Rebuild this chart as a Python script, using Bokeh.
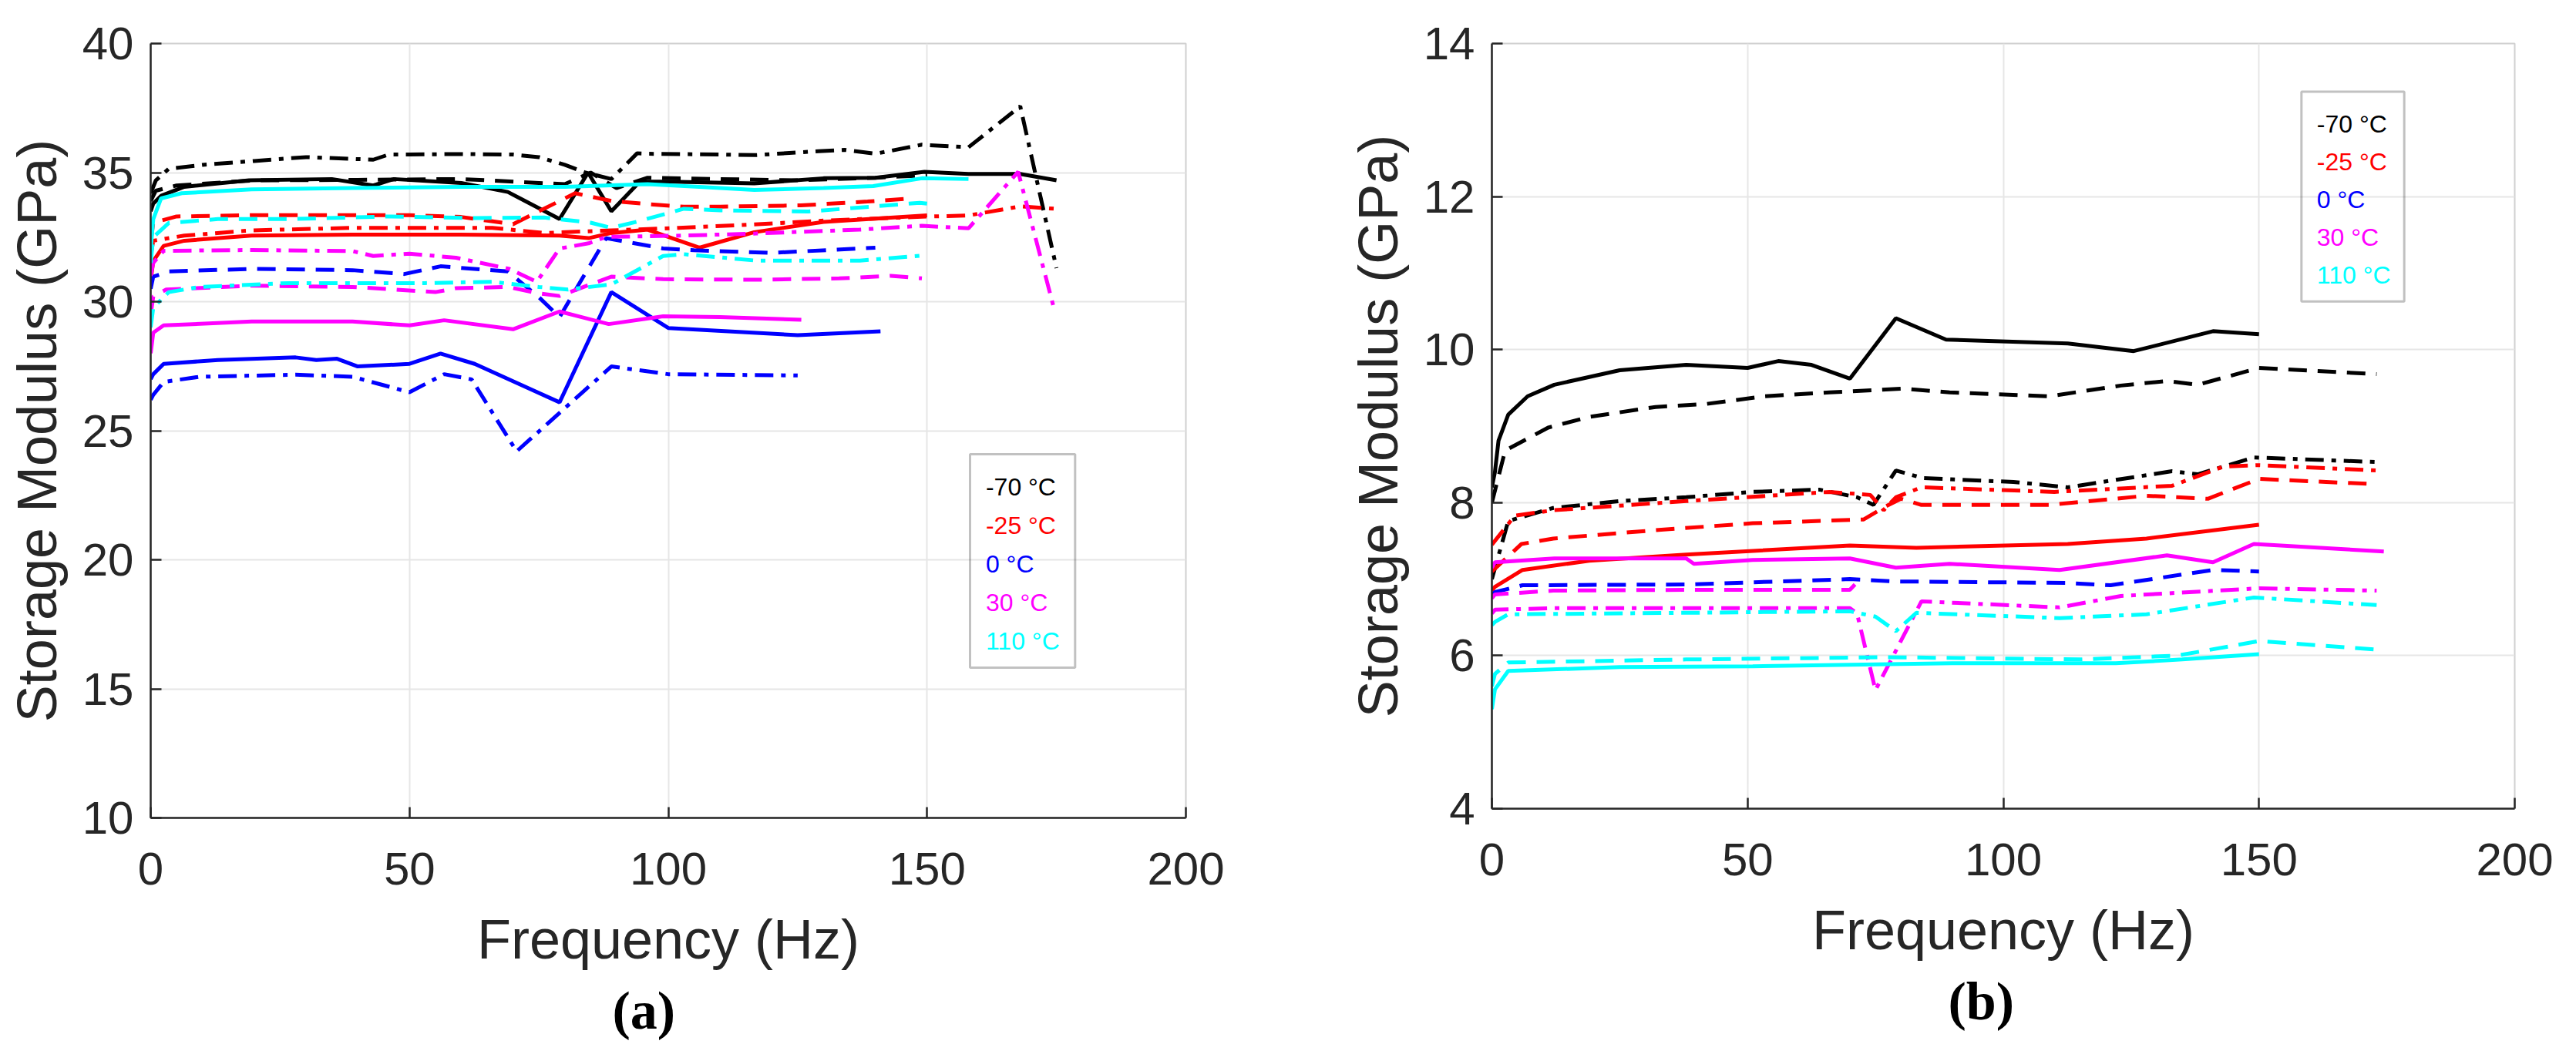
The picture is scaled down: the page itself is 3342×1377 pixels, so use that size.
from bokeh.plotting import figure
from bokeh.layouts import row
from bokeh.models import Range1d, FixedTicker, BoxAnnotation, Title
from bokeh.core.properties import value
from bokeh.embed import file_html
from bokeh.resources import INLINE

# ---------------- data: panel (a) ----------------
A_K_DASHDOT_X = [0, 1, 3.5, 10, 20, 30, 43, 46, 50, 60, 70, 75, 80, 84, 89, 94, 96, 110, 117, 129, 134, 140, 149, 158, 168, 175]
A_K_DASHDOT_Y = [34.2, 34.7, 35.15, 35.3, 35.45, 35.6, 35.5, 35.7, 35.7, 35.72, 35.7, 35.6, 35.3, 35.0, 34.75, 35.75, 35.73, 35.7, 35.68, 35.83, 35.88, 35.73, 36.08, 35.98, 37.57, 31.3]
A_K_SOLID_X = [0, 0.5, 2, 6.5, 19, 35, 43, 47, 60, 69, 79, 84.5, 89, 94.5, 100, 116.6, 130, 140, 149.5, 158, 168, 175]
A_K_SOLID_Y = [33.5, 33.8, 34.1, 34.45, 34.7, 34.75, 34.5, 34.75, 34.6, 34.25, 33.2, 35.0, 33.5, 34.65, 34.65, 34.58, 34.78, 34.8, 35.03, 34.95, 34.95, 34.7]
A_K_DASHED_X = [0, 1, 5, 20, 40, 60, 75, 80, 85, 90, 96, 110, 125, 140, 150]
A_K_DASHED_Y = [33.9, 34.3, 34.5, 34.7, 34.72, 34.75, 34.6, 34.55, 35.0, 34.4, 34.8, 34.75, 34.7, 34.8, 34.9]
A_C_SOLID_X = [0, 0.5, 2, 6, 19.5, 39, 60, 80, 96, 106, 116.6, 130, 139.6, 149, 158]
A_C_SOLID_Y = [32.0, 33.2, 34.0, 34.2, 34.35, 34.4, 34.45, 34.45, 34.55, 34.45, 34.33, 34.4, 34.48, 34.78, 34.75]
A_R_DASHED_X = [0, 0.5, 5, 20, 40, 50, 60, 65, 70, 82, 89, 96, 103, 110, 125.6, 138.5, 147.3]
A_R_DASHED_Y = [32.3, 33.06, 33.3, 33.35, 33.35, 33.35, 33.28, 33.14, 33.0, 34.2, 33.9, 33.78, 33.68, 33.68, 33.73, 33.88, 34.0]
A_C_DASHED_X = [0, 0.5, 3.5, 13, 26.6, 46, 63, 76, 85, 89, 94, 103, 110, 127, 148.6, 150]
A_C_DASHED_Y = [31.5, 32.5, 33.05, 33.2, 33.2, 33.3, 33.24, 33.26, 33.06, 32.86, 33.1, 33.6, 33.54, 33.49, 33.83, 33.8]
A_R_DASHDOT_X = [0, 0.5, 6.5, 19.5, 39, 66, 76, 89, 102, 116.6, 130, 149, 158, 168, 174.7]
A_R_DASHDOT_Y = [31.8, 32.36, 32.56, 32.76, 32.86, 32.86, 32.66, 32.76, 32.86, 32.99, 33.14, 33.29, 33.34, 33.69, 33.6]
A_R_SOLID_X = [0, 0.5, 2.5, 6.5, 19.5, 39, 60, 79, 84.6, 89, 96, 106, 116.6, 130, 150]
A_R_SOLID_Y = [30.8, 31.57, 32.16, 32.36, 32.56, 32.6, 32.6, 32.56, 32.46, 32.66, 32.79, 32.09, 32.69, 33.09, 33.34]
A_M_DASHDOT_X = [0, 0.5, 2.5, 19.5, 39, 43, 50, 59, 69.3, 74.6, 79, 84.6, 88, 103, 117, 137, 149, 158, 167.6, 174.7]
A_M_DASHDOT_Y = [31.0, 31.5, 31.97, 32.0, 31.96, 31.77, 31.86, 31.7, 31.27, 30.77, 32.06, 32.26, 32.51, 32.56, 32.64, 32.79, 32.94, 32.84, 35.03, 29.6]
A_M_DASHED_X = [0, 0.5, 3, 19.5, 39, 55, 59, 69, 75, 79, 89, 99, 117, 133, 143, 149]
A_M_DASHED_Y = [29.5, 30.2, 30.47, 30.62, 30.57, 30.37, 30.52, 30.57, 30.32, 30.22, 30.97, 30.87, 30.85, 30.9, 31.0, 30.9]
A_B_DASHED_X = [0, 0.5, 3.5, 19.5, 39, 49, 56, 69, 75, 79, 83, 88, 99, 105, 120, 140]
A_B_DASHED_Y = [30.5, 30.97, 31.17, 31.27, 31.22, 31.07, 31.37, 31.17, 30.17, 29.4, 30.77, 32.46, 32.06, 31.99, 31.89, 32.09]
A_C_DASHDOT_X = [0, 0.5, 3.5, 9.4, 26.6, 53, 66, 75, 80.6, 89, 99, 103, 117, 137, 149.5]
A_C_DASHDOT_Y = [29.0, 29.77, 30.37, 30.57, 30.72, 30.72, 30.77, 30.57, 30.47, 30.67, 31.77, 31.84, 31.59, 31.59, 31.79]
A_M_SOLID_X = [0, 0.5, 2.5, 19.5, 39, 50, 56.7, 70, 79, 88.5, 99, 110, 125.7]
A_M_SOLID_Y = [28.0, 28.8, 29.08, 29.23, 29.23, 29.08, 29.28, 28.93, 29.62, 29.13, 29.43, 29.4, 29.3]
A_B_SOLID_X = [0, 0.5, 2.5, 13, 28, 32, 36, 40, 50, 56, 62.6, 79, 89, 100, 125, 141]
A_B_SOLID_Y = [27.0, 27.19, 27.59, 27.74, 27.84, 27.74, 27.79, 27.49, 27.59, 27.99, 27.59, 26.1, 30.37, 28.98, 28.7, 28.85]
A_B_DASHDOT_X = [0, 0.5, 2.5, 9.4, 28, 39, 50, 56.7, 62, 70.7, 89, 100, 125]
A_B_DASHDOT_Y = [26.2, 26.39, 26.89, 27.09, 27.17, 27.09, 26.49, 27.19, 26.99, 24.2, 27.49, 27.19, 27.14]

# ---------------- data: panel (b) ----------------
B_K_SOLID_X = [0, 0.6, 1.3, 3.2, 7, 12.2, 25, 38, 50, 56, 62.5, 70, 79, 88.8, 112.6, 125.5, 141, 150]
B_K_SOLID_Y = [8.2, 8.4, 8.81, 9.15, 9.39, 9.54, 9.73, 9.8, 9.76, 9.85, 9.8, 9.62, 10.41, 10.13, 10.08, 9.98, 10.24, 10.2]
B_K_DASHED_X = [0, 2.6, 11, 19, 32, 42, 53.4, 66, 80.4, 89.5, 109, 123, 132, 138, 150, 173]
B_K_DASHED_Y = [8.0, 8.68, 8.98, 9.12, 9.25, 9.29, 9.39, 9.44, 9.49, 9.44, 9.39, 9.53, 9.59, 9.54, 9.76, 9.68]
B_K_DASHDOT_X = [0, 3.2, 12, 25, 38, 51, 64, 71.4, 74.6, 79, 84.3, 102, 112.6, 133, 138, 149, 173]
B_K_DASHDOT_Y = [7.0, 7.76, 7.93, 8.02, 8.07, 8.14, 8.17, 8.07, 7.97, 8.42, 8.32, 8.27, 8.2, 8.41, 8.37, 8.59, 8.53]
B_R_DASHDOT_X = [0, 4.5, 12, 38, 66, 74, 76.6, 79, 84, 110, 133, 143, 150, 173]
B_R_DASHDOT_Y = [7.45, 7.83, 7.9, 8.02, 8.14, 8.1, 7.9, 8.07, 8.2, 8.14, 8.22, 8.47, 8.49, 8.42]
B_R_DASHED_X = [0, 5.8, 12, 32, 51, 72.7, 77, 80, 84, 109, 128, 140, 150, 173]
B_R_DASHED_Y = [7.1, 7.46, 7.53, 7.64, 7.73, 7.78, 7.95, 8.05, 7.97, 7.97, 8.09, 8.05, 8.31, 8.24]
B_R_SOLID_X = [0, 0.6, 6, 19, 38, 70, 83, 112.6, 128, 150]
B_R_SOLID_Y = [6.85, 6.9, 7.12, 7.24, 7.32, 7.44, 7.41, 7.46, 7.53, 7.71]
B_M_SOLID_X = [0, 0.6, 12.2, 38, 39.5, 51, 70, 79, 89.5, 111, 132, 141, 149, 174.4]
B_M_SOLID_Y = [7.15, 7.22, 7.27, 7.27, 7.2, 7.25, 7.27, 7.15, 7.2, 7.12, 7.31, 7.22, 7.46, 7.36]
B_B_DASHED_X = [0, 0.6, 6, 38, 70, 79, 112.6, 121, 141, 150]
B_B_DASHED_Y = [6.8, 6.83, 6.92, 6.93, 7.0, 6.97, 6.95, 6.92, 7.12, 7.1]
B_M_DASHED_X = [0, 0.6, 12, 38, 70, 71]
B_M_DASHED_Y = [6.75, 6.8, 6.85, 6.86, 6.86, 6.93]
B_M_DASHDOT_X = [0, 0.6, 12, 38, 70, 71.4, 75, 84, 111, 123, 150, 173]
B_M_DASHDOT_Y = [6.55, 6.6, 6.62, 6.62, 6.62, 6.55, 5.55, 6.71, 6.63, 6.78, 6.88, 6.85]
B_C_DASHDOT_X = [0, 0.6, 3.2, 38, 70, 75, 79, 83, 111, 128, 149, 173]
B_C_DASHDOT_Y = [6.4, 6.44, 6.54, 6.56, 6.58, 6.51, 6.32, 6.56, 6.49, 6.54, 6.76, 6.66]
B_C_DASHED_X = [0, 0.6, 3.2, 38, 77, 115, 134, 150, 173]
B_C_DASHED_Y = [5.6, 5.76, 5.91, 5.95, 5.98, 5.95, 6.0, 6.19, 6.08]
B_C_SOLID_X = [0, 0.6, 3.2, 25, 51, 90, 122, 135, 150]
B_C_SOLID_Y = [5.3, 5.56, 5.8, 5.85, 5.86, 5.9, 5.9, 5.95, 6.02]

LEGEND_LABELS = ["-70 °C", "-25 °C", "0 °C", "30 °C", "110 °C"]
X_TICKS = [0, 50, 100, 150, 200]
A_Y_TICKS = [10, 15, 20, 25, 30, 35, 40]
B_Y_TICKS = [4, 6, 8, 10, 12, 14]

# ---------------- styling ----------------
COL = {"k": "#000000", "r": "#ff0000", "b": "#0000ff", "m": "#ff00ff", "c": "#00ffff"}
LEGEND_COLORS = [COL["k"], COL["r"], COL["b"], COL["m"], COL["c"]]
DASH = {"solid": "solid", "dashed": "24 14", "dashdot": "24 10 6 10"}
FONT = "Liberation Sans"
AXC = "#262626"

A_SERIES = [
    (A_K_DASHDOT_X, A_K_DASHDOT_Y, "k", "dashdot"),
    (A_K_SOLID_X, A_K_SOLID_Y, "k", "solid"),
    (A_K_DASHED_X, A_K_DASHED_Y, "k", "dashed"),
    (A_R_DASHED_X, A_R_DASHED_Y, "r", "dashed"),
    (A_R_DASHDOT_X, A_R_DASHDOT_Y, "r", "dashdot"),
    (A_R_SOLID_X, A_R_SOLID_Y, "r", "solid"),
    (A_B_DASHED_X, A_B_DASHED_Y, "b", "dashed"),
    (A_B_SOLID_X, A_B_SOLID_Y, "b", "solid"),
    (A_B_DASHDOT_X, A_B_DASHDOT_Y, "b", "dashdot"),
    (A_M_DASHDOT_X, A_M_DASHDOT_Y, "m", "dashdot"),
    (A_M_DASHED_X, A_M_DASHED_Y, "m", "dashed"),
    (A_M_SOLID_X, A_M_SOLID_Y, "m", "solid"),
    (A_C_SOLID_X, A_C_SOLID_Y, "c", "solid"),
    (A_C_DASHED_X, A_C_DASHED_Y, "c", "dashed"),
    (A_C_DASHDOT_X, A_C_DASHDOT_Y, "c", "dashdot"),
]
B_SERIES = [
    (B_K_SOLID_X, B_K_SOLID_Y, "k", "solid"),
    (B_K_DASHED_X, B_K_DASHED_Y, "k", "dashed"),
    (B_K_DASHDOT_X, B_K_DASHDOT_Y, "k", "dashdot"),
    (B_R_DASHDOT_X, B_R_DASHDOT_Y, "r", "dashdot"),
    (B_R_DASHED_X, B_R_DASHED_Y, "r", "dashed"),
    (B_R_SOLID_X, B_R_SOLID_Y, "r", "solid"),
    (B_B_DASHED_X, B_B_DASHED_Y, "b", "dashed"),
    (B_M_SOLID_X, B_M_SOLID_Y, "m", "solid"),
    (B_M_DASHED_X, B_M_DASHED_Y, "m", "dashed"),
    (B_M_DASHDOT_X, B_M_DASHDOT_Y, "m", "dashdot"),
    (B_C_DASHDOT_X, B_C_DASHDOT_Y, "c", "dashdot"),
    (B_C_DASHED_X, B_C_DASHED_Y, "c", "dashed"),
    (B_C_SOLID_X, B_C_SOLID_Y, "c", "solid"),
]


def make_panel(series, yr, yticks, caption, frame_w, frame_h, b_left, b_right, b_top, b_bottom,
               legend_box, cap_offset):
    p = figure(frame_width=frame_w, frame_height=frame_h,
               x_range=Range1d(0, 200), y_range=Range1d(*yr),
               output_backend="svg", toolbar_location=None, title=None,
               min_border_left=b_left, min_border_right=b_right,
               min_border_top=b_top, min_border_bottom=b_bottom)
    p.background_fill_color = "white"
    p.border_fill_color = "white"
    p.outline_line_color = "#d0d0d0"
    p.outline_line_width = 2

    p.xaxis.ticker = FixedTicker(ticks=X_TICKS)
    p.yaxis.ticker = FixedTicker(ticks=yticks)
    for ax in (p.xaxis[0], p.yaxis[0]):
        ax.axis_line_color = AXC
        ax.axis_line_width = 2.5
        ax.major_tick_line_color = AXC
        ax.major_tick_line_width = 2.5
        ax.major_tick_in = 14
        ax.major_tick_out = 0
        ax.minor_tick_line_color = None
        ax.major_label_text_font = FONT
        ax.major_label_text_font_size = "60px"
        ax.major_label_text_color = AXC
        ax.axis_label_text_font = FONT
        ax.axis_label_text_font_size = "72px"
        ax.axis_label_text_font_style = "normal"
        ax.axis_label_text_color = AXC
    p.xaxis.axis_label = "Frequency (Hz)"
    p.yaxis.axis_label = "Storage Modulus (GPa)"
    p.xaxis.major_label_standoff = 45
    p.xaxis.axis_label_standoff = 28
    p.yaxis.major_label_standoff = 22
    p.yaxis.axis_label_standoff = 16

    p.xgrid.grid_line_color = "#e6e6e6"
    p.ygrid.grid_line_color = "#e6e6e6"
    p.xgrid.grid_line_width = 2
    p.ygrid.grid_line_width = 2

    for xs, ys, c, d in series:
        p.line(xs, ys, line_color=COL[c], line_width=5, line_dash=DASH[d])

    left, right, top, bottom = legend_box
    p.add_layout(BoxAnnotation(left=left, right=right, top=top, bottom=bottom,
                               fill_color=None, line_color="#333333", line_width=3))
    h = top - bottom
    ty = [top - h * (0.155 + 0.18 * i) for i in range(len(LEGEND_LABELS))]
    tx = [left + (right - left) * 0.15] * len(LEGEND_LABELS)
    p.text(x=tx, y=ty, text=LEGEND_LABELS, text_color=LEGEND_COLORS,
           text_font=value(FONT), text_font_size="32px", text_baseline="middle", text_align="left")

    cap = Title(text=caption, align="left", text_font="Liberation Serif",
                text_font_size="70px", text_font_style="bold", text_color="#000000",
                standoff=18, offset=cap_offset)
    p.add_layout(cap, "below")
    return p


pa = make_panel(A_SERIES, (10, 40), A_Y_TICKS, "(a)", 1343, 1005, 195, 100, 50, 300,
                (158.3, 178.6, 24.09, 15.82), 599)
pb = make_panel(B_SERIES, (4, 14), B_Y_TICKS, "(b)", 1327, 993, 297, 56, 56, 306,
                (158.3, 178.4, 13.37, 10.63), 592)

layout = row(pa, pb)
open("out.html", "w").write(file_html(layout, INLINE))
